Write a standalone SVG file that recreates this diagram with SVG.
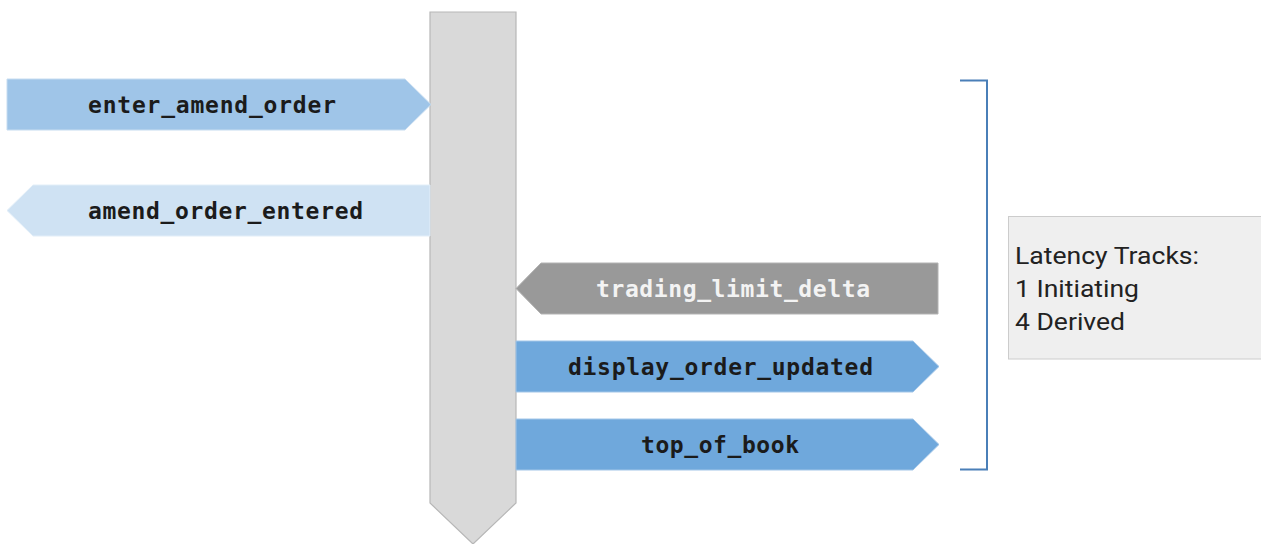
<svg xmlns="http://www.w3.org/2000/svg" width="1261" height="544" viewBox="0 0 1261 544">
  <style>
    .lbl { font-family: "DejaVu Sans Mono", "Liberation Mono", monospace; font-weight: bold; font-size: 23px; fill: #1b1b1b; text-anchor: middle; }
    .lbl.light { fill: #f3f3f3; }
    .note { font-family: Roboto, "Liberation Sans", sans-serif; font-size: 24.5px; fill: #222222; }
    .edge { stroke-width: 1; }
  </style>
  <rect width="1261" height="544" fill="#ffffff"/>

  <!-- central timeline -->
  <g id="timeline">
    <polygon points="430,12 516,12 516,503 473,544 430,503" fill="#d9d9d9" stroke="#b7b7b7" stroke-width="1.2"/>
  </g>

  <!-- event arrows -->
  <g id="enter_amend_order">
    <polygon points="7,79 405,79 431,104.5 405,130 7,130" fill="#9fc5e8" stroke="#c6dcf0" class="edge"/>
    <text class="lbl" x="212" y="112.5" textLength="248" lengthAdjust="spacing">enter_amend_order</text>
  </g>
  <g id="amend_order_entered">
    <polygon points="430,185 33,185 7,210.5 33,236 430,236" fill="#cfe2f3" stroke="#e2eef8" class="edge"/>
    <text class="lbl" x="225.5" y="218.5" textLength="275" lengthAdjust="spacing">amend_order_entered</text>
  </g>
  <g id="trading_limit_delta">
    <polygon points="938,263 541,263 516,288.5 541,314 938,314" fill="#999999" stroke="#b3b3b3" class="edge"/>
    <text class="lbl light" x="733" y="296.5" textLength="274" lengthAdjust="spacing">trading_limit_delta</text>
  </g>
  <g id="display_order_updated">
    <polygon points="516,341 913,341 939,366.5 913,392 516,392" fill="#6fa8dc" stroke="#a3c6e8" class="edge"/>
    <text class="lbl" x="720.5" y="374.5" textLength="305" lengthAdjust="spacing">display_order_updated</text>
  </g>
  <g id="top_of_book">
    <polygon points="516,419 913,419 939,444.5 913,470 516,470" fill="#6fa8dc" stroke="#a3c6e8" class="edge"/>
    <text class="lbl" x="720" y="452.5" textLength="158" lengthAdjust="spacing">top_of_book</text>
  </g>

  <!-- bracket grouping the latency tracks -->
  <g id="connectors">
    <polyline points="960,80.5 987,80.5 987,469.5 960,469.5" fill="none" stroke="#4a7fb8" stroke-width="2"/>
  </g>

  <!-- summary note -->
  <g id="latency_note">
    <rect x="1008.5" y="216.5" width="260" height="142.5" fill="#efefef" stroke="#cccccc" stroke-width="1"/>
    <text class="note" x="1015" y="264" textLength="184" lengthAdjust="spacingAndGlyphs">Latency Tracks:</text>
    <text class="note" x="1015" y="297" textLength="124" lengthAdjust="spacingAndGlyphs">1 Initiating</text>
    <text class="note" x="1015" y="330" textLength="110" lengthAdjust="spacingAndGlyphs">4 Derived</text>
  </g>
</svg>
